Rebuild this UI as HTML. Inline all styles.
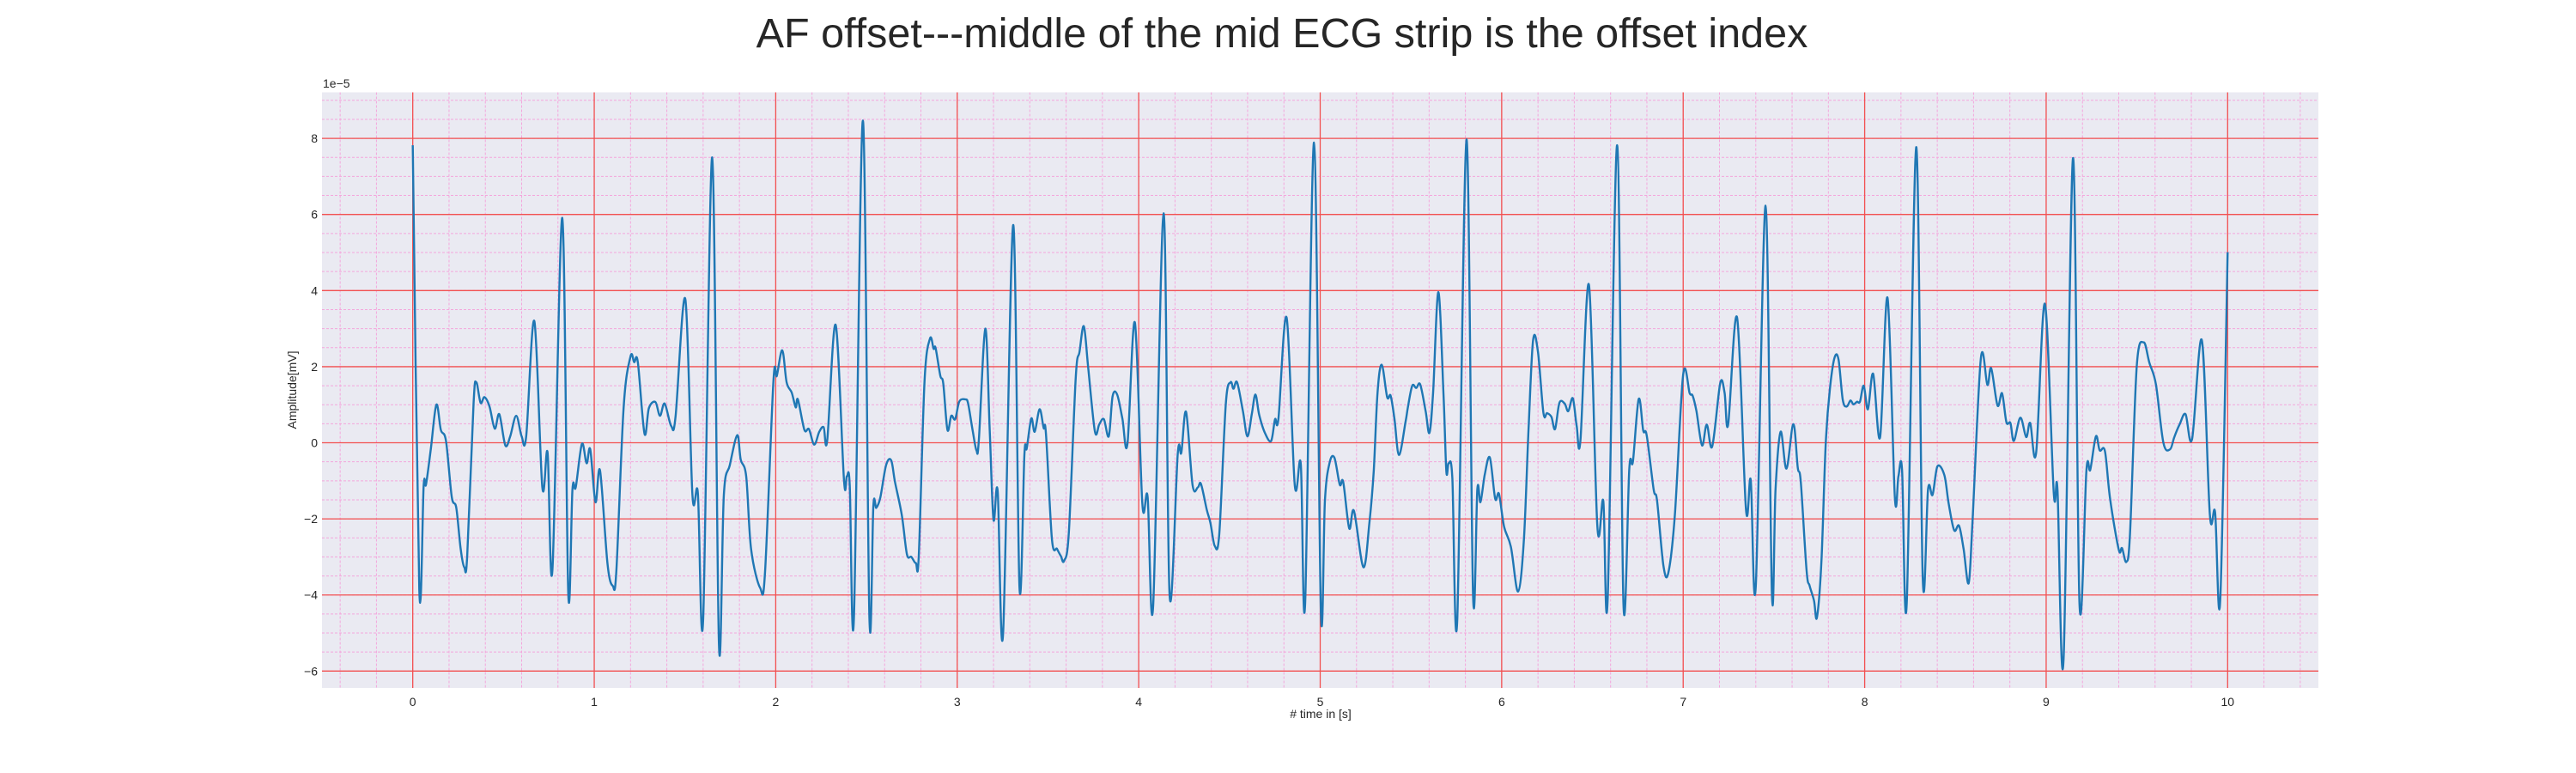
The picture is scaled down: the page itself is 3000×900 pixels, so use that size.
<!DOCTYPE html>
<html><head><meta charset="utf-8"><style>
html,body{margin:0;padding:0;background:#fff;}
svg{display:block;font-family:"Liberation Sans",Arial,sans-serif;}
</style></head><body>
<svg id="chart" width="3000" height="900" viewBox="0 0 3000 900" xmlns="http://www.w3.org/2000/svg">
<rect x="0" y="0" width="3000" height="900" fill="#ffffff"/>
<text x="1493" y="55" font-size="48.5" text-anchor="middle" fill="#262626">AF offset---middle of the mid ECG strip is the offset index</text>
<rect x="375" y="107.5" width="2325" height="693.5" fill="#eaeaf2"/>
<g id="grid"></g>
<g id="ticks"></g>
<text x="376" y="102" font-size="14" fill="#262626">1e−5</text>
<text transform="translate(345,454) rotate(-90)" font-size="14" text-anchor="middle" fill="#262626">Amplitude[mV]</text>
<text x="1538" y="836" font-size="14" text-anchor="middle" fill="#262626"># time in [s]</text>
<path id="ecg" fill="none" stroke="#1f77b4" stroke-width="2.4" stroke-linejoin="round"/>
</svg>
<script>
const xTicks = [0,1,2,3,4,5,6,7,8,9,10];
const yTicks = [-6,-4,-2,0,2,4,6,8];
const times = [0,.036,.06,.073,.10,.13,.155,.183,.215,.24,.264,.284,.30,.335,.35,.374,.395,.423,.452,.477,.51,.537,.57,.6,.625,.67,.714,.743,.77,.824,.857,.88,.898,.932,.958,.978,1.007,1.032,1.073,1.102,1.122,1.162,1.2,1.22,1.24,1.277,1.301,1.337,1.362,1.388,1.424,1.448,1.502,1.541,1.571,1.6,1.65,1.687,1.714,1.747,1.788,1.807,1.837,1.864,1.914,1.941,1.987,2.006,2.036,2.06,2.088,2.11,2.122,2.158,2.183,2.212,2.24,2.264,2.284,2.33,2.376,2.392,2.408,2.431,2.48,
2.516,2.538,2.554,2.576,2.608,2.636,2.657,2.695,2.723,2.747,2.772,2.788,2.82,2.85,2.87,2.881,2.907,2.923,2.946,2.967,2.989,3.011,3.044,3.06,3.086,3.106,3.119,3.155,3.179,3.2,3.223,3.253,3.308,3.343,3.37,3.383,3.408,3.427,3.454,3.476,3.489,3.522,3.55,3.571,3.589,3.615,3.653,3.674,3.698,3.723,3.759,3.783,3.808,3.835,3.856,3.881,3.91,3.938,3.979,4.02,4.049,4.08,4.137,4.17,4.215,4.235,4.261,4.297,4.326,4.343,4.375,4.395,4.419,4.444,4.48,4.506,4.522,4.542,4.574,4.599,4.623,4.643,4.664,4.697,4.73,4.751,4.77,4.815,4.86,4.893,4.917,4.966,
5.004,5.026,5.051,5.078,5.108,5.127,5.16,5.186,5.238,5.271,5.295,5.316,5.339,5.369,5.388,5.409,5.434,5.47,5.483,5.507,5.529,5.551,5.581,5.602,5.622,5.651,5.679,5.695,5.708,5.728,5.755,5.806,5.842,5.866,5.883,5.907,5.935,5.964,5.985,6.013,6.051,6.09,6.122,6.148,6.173,6.2,6.23,6.25,6.274,6.294,6.318,6.347,6.367,6.392,6.413,6.434,6.481,6.527,6.56,6.584,6.636,6.671,6.703,6.723,6.755,6.78,6.799,6.837,6.856,6.891,6.918,6.954,7.0,7.036,7.052,7.073,7.104,7.13,7.16,7.204,7.228,7.248,7.297,7.346,7.372,7.4,7.454,7.489,
7.509,7.537,7.569,7.607,7.631,7.648,7.68,7.697,7.721,7.737,7.762,7.786,7.811,7.835,7.856,7.879,7.9,7.922,7.938,7.958,7.974,7.995,8.018,8.047,8.085,8.126,8.166,8.186,8.206,8.232,8.284,8.32,8.349,8.374,8.401,8.439,8.463,8.493,8.52,8.545,8.573,8.594,8.64,8.676,8.697,8.732,8.757,8.781,8.803,8.822,8.858,8.89,8.912,8.945,8.993,9.042,9.062,9.096,9.148,9.184,9.222,9.243,9.274,9.295,9.324,9.352,9.4,9.418,9.442,9.462,9.499,9.537,9.569,9.605,9.646,9.683,9.706,9.736,9.768,9.804,9.858,9.902,9.931,9.959,10.0];
const values = [7.82,-3.86,-1.12,-1.1,-0.15,1.0,0.34,0.05,-1.42,-1.71,-2.79,-3.27,-2.98,1.03,1.59,1.05,1.2,0.95,0.37,0.75,-0.07,0.17,0.71,0.17,0.17,3.2,-1.17,-0.26,-3.32,5.91,-3.96,-1.22,-1.17,-0.03,-0.54,-0.17,-1.56,-0.73,-3.18,-3.76,-3.37,0.93,2.27,2.12,2.12,0.24,0.91,1.07,0.71,1.03,0.44,0.68,3.78,-1.37,-1.32,-4.64,7.5,-5.31,-1.37,-0.59,0.2,-0.44,-0.88,-2.79,-3.81,-3.42,1.61,1.76,2.43,1.59,1.32,0.93,1.14,0.34,0.36,-0.05,0.29,0.41,0.07,3.1,-0.98,-0.88,-1.12,-4.59,8.47,
-4.59,-1.66,-1.71,-1.44,-0.59,-0.46,-1.03,-1.91,-2.93,-3.0,-3.16,-2.98,1.61,2.74,2.47,2.49,1.76,1.56,0.34,0.71,0.62,1.08,1.14,1.03,0.29,-0.2,0.05,3.0,0.34,-2.02,-1.27,-5.01,5.72,-3.81,-0.32,-0.15,0.64,0.29,0.88,0.39,0.24,-2.54,-2.79,-2.98,-3.1,-2.35,1.71,2.39,3.06,1.91,0.29,0.49,0.62,0.17,1.22,1.27,0.64,-0.03,3.16,-1.61,-1.42,-4.27,6.03,-4.0,-0.29,-0.26,0.81,-1.12,-1.17,-1.08,-1.76,-2.1,-2.71,-2.39,1.03,1.59,1.42,1.59,0.83,0.17,0.75,1.27,0.73,0.24,0.05,0.62,0.64,3.29,-1.12,-0.56,-4.2,7.89,
-4.45,-1.52,-0.54,-0.39,-1.1,-1.03,-2.25,-1.79,-3.27,-2.1,-0.73,1.32,2.05,1.2,1.24,0.64,-0.32,0.54,0.93,1.5,1.44,1.53,0.83,0.26,1.32,3.96,1.32,-0.75,-0.54,-0.93,-4.66,7.97,-4.0,-1.22,-1.56,-0.83,-0.39,-1.47,-1.34,-2.2,-2.74,-3.91,-2.59,0.34,2.69,2.39,0.78,0.78,0.68,0.36,1.05,1.03,0.83,1.17,0.44,0.07,4.15,-2.2,-1.53,-4.1,7.82,-4.25,-0.68,-0.49,1.15,0.32,0.2,-1.22,-1.52,-3.23,-3.42,-1.91,1.79,1.3,1.24,0.83,-0.07,0.48,-0.1,1.56,1.32,0.48,3.29,-1.76,-0.98,-3.76,6.23,-4.0,
-1.22,0.29,-0.68,0.49,-0.64,-1.03,-3.37,-3.76,-4.15,-4.59,-3.08,0.05,1.52,2.25,2.18,1.14,0.95,1.11,1.01,1.08,1.08,1.5,0.88,1.81,0.15,3.81,-1.42,-0.88,-0.71,-4.2,7.77,-3.55,-1.22,-1.37,-0.62,-0.85,-1.61,-2.3,-2.18,-2.79,-3.69,-2.1,2.22,1.52,1.96,0.98,1.3,0.54,0.52,0.05,0.66,0.15,0.52,-0.26,3.65,-1.32,-1.22,-5.7,7.48,-4.25,-0.71,-0.71,0.17,-0.2,-0.22,-1.47,-2.81,-2.77,-3.13,-2.39,2.0,2.64,2.1,1.53,0.0,-0.17,0.15,0.49,0.75,0.1,2.69,-1.89,-1.83,-4.13,5.01];

const X0 = 375, X1 = 2700, XMIN = -0.5, XMAX = 10.5;
const Y0 = 801, Y1 = 107.5, YMIN = -6.444, YMAX = 9.21;
function sx(t){ return X0 + (t - XMIN) / (XMAX - XMIN) * (X1 - X0); }
function sy(v){ return Y0 - (v - YMIN) / (YMAX - YMIN) * (Y0 - Y1); }
const NS = 'http://www.w3.org/2000/svg';
const grid = document.getElementById('grid');
const ticks = document.getElementById('ticks');
function line(parent, x1, y1, x2, y2, stroke, w, dash){
  const l = document.createElementNS(NS, 'line');
  l.setAttribute('x1', x1); l.setAttribute('y1', y1); l.setAttribute('x2', x2); l.setAttribute('y2', y2);
  l.setAttribute('stroke', stroke); l.setAttribute('stroke-width', w);
  if (dash) l.setAttribute('stroke-dasharray', dash);
  parent.appendChild(l);
  return l;
}
for (let t = -0.4; t <= 10.45; t += 0.2) {
  const l = line(grid, sx(t), Y1, sx(t), Y0, '#f4a6dc', 1, '3,2');
  
  
}
for (let v = -6.0; v <= 9.2; v += 0.5) {
  const l = line(grid, X0, sy(v), X1, sy(v), '#f4a6dc', 1, '3,2');
  
  
}
xTicks.forEach(t => {
  const l = line(grid, sx(t), Y1, sx(t), Y0, '#f25050', 1.3);
  
  
  const tx = document.createElementNS(NS, 'text');
  tx.setAttribute('x', sx(t)); tx.setAttribute('y', 822);
  tx.setAttribute('font-size', '14'); tx.setAttribute('text-anchor', 'middle'); tx.setAttribute('fill', '#262626');
  tx.textContent = t;
  
  
  ticks.appendChild(tx);
});
yTicks.forEach(v => {
  const l = line(grid, X0, sy(v), X1, sy(v), '#f25050', 1.3);
  
  
  const tx = document.createElementNS(NS, 'text');
  tx.setAttribute('x', 370); tx.setAttribute('y', sy(v) + 5);
  tx.setAttribute('font-size', '14'); tx.setAttribute('text-anchor', 'end'); tx.setAttribute('fill', '#262626');
  tx.textContent = v < 0 ? '−' + (-v) : String(v);
  
  
  ticks.appendChild(tx);
});
// smooth trace (Catmull-Rom -> cubic Bezier)
const P = times.map((t, i) => [sx(t), sy(values[i])]);
let d = 'M' + P[0][0].toFixed(1) + ',' + P[0][1].toFixed(1);
for (let i = 0; i < P.length - 1; i++) {
  const p0 = P[Math.max(0, i - 1)], p1 = P[i], p2 = P[i + 1], p3 = P[Math.min(P.length - 1, i + 2)];
  const k = 1 / 6;
  const c1x = p1[0] + (p2[0] - p0[0]) * k, c1y = p1[1] + (p2[1] - p0[1]) * k;
  const c2x = p2[0] - (p3[0] - p1[0]) * k, c2y = p2[1] - (p3[1] - p1[1]) * k;
  d += 'C' + c1x.toFixed(1) + ',' + c1y.toFixed(1) + ' ' + c2x.toFixed(1) + ',' + c2y.toFixed(1) + ' ' + p2[0].toFixed(1) + ',' + p2[1].toFixed(1);
}
document.getElementById('ecg').setAttribute('d', d);
</script>
</body></html>
